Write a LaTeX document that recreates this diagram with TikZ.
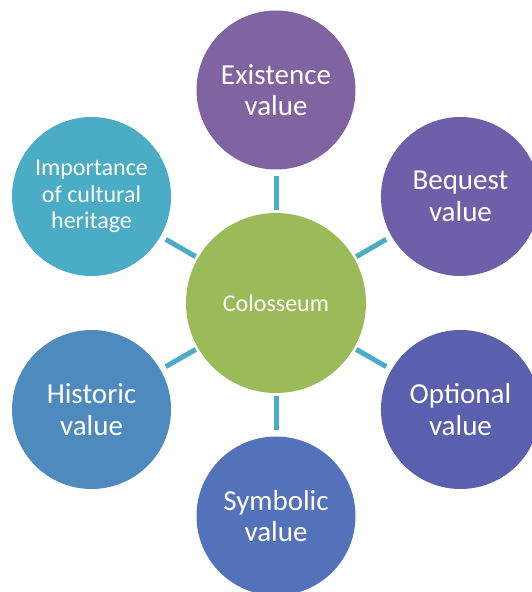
\documentclass[tikz,border=0pt]{standalone}
\usepackage{fontspec}
\setmainfont{Carlito}
\usetikzlibrary{calc}
\definecolor{cExist}{HTML}{8064A2}
\definecolor{cBeq}{HTML}{6E60A8}
\definecolor{cOpt}{HTML}{5A5FAE}
\definecolor{cSym}{HTML}{5472B9}
\definecolor{cHist}{HTML}{4F8ABF}
\definecolor{cImp}{HTML}{4BACC6}
\definecolor{cCenter}{HTML}{9BBB59}
\definecolor{cLink}{HTML}{4BACC6}
\tikzset{
  outer/.style={circle, inner sep=0pt, minimum size=159pt, text=white, align=center,
    font=\fontsize{29}{31.5}\selectfont},
  hub/.style={circle, inner sep=0pt, minimum size=180pt, fill=cCenter, text=white,
    font=\fontsize{24}{26}\selectfont},
  link/.style={draw=cLink, line width=5pt, shorten <=2.5pt, shorten >=6pt}
}
\begin{document}
\begin{tikzpicture}[x=1pt,y=1pt]
\useasboundingbox (0,0) rectangle (531,592);
\node[hub] (c) at (276,289) {Colosseum};
\node[outer, fill=cExist] (e) at ($(c)+(90:213)$) {Existence\\value};
\node[outer, fill=cBeq] (b) at ($(c)+(30:213)$) {Bequest\\value};
\node[outer, fill=cOpt] (o) at ($(c)+(-30:213)$) {Optional\\value};
\node[outer, fill=cSym] (s) at ($(c)+(-90:213)$) {Symbolic\\value};
\node[outer, fill=cHist] (h) at ($(c)+(210:213)$) {Historic\\value};
\node[outer, fill=cImp, font=\fontsize{24}{26.5}\selectfont] (i) at ($(c)+(150:213)$) {Importance\\of cultural\\heritage};
\foreach \t in {e,b,o,s,h,i} \draw[link] (c) -- (\t);
\end{tikzpicture}
\end{document}
